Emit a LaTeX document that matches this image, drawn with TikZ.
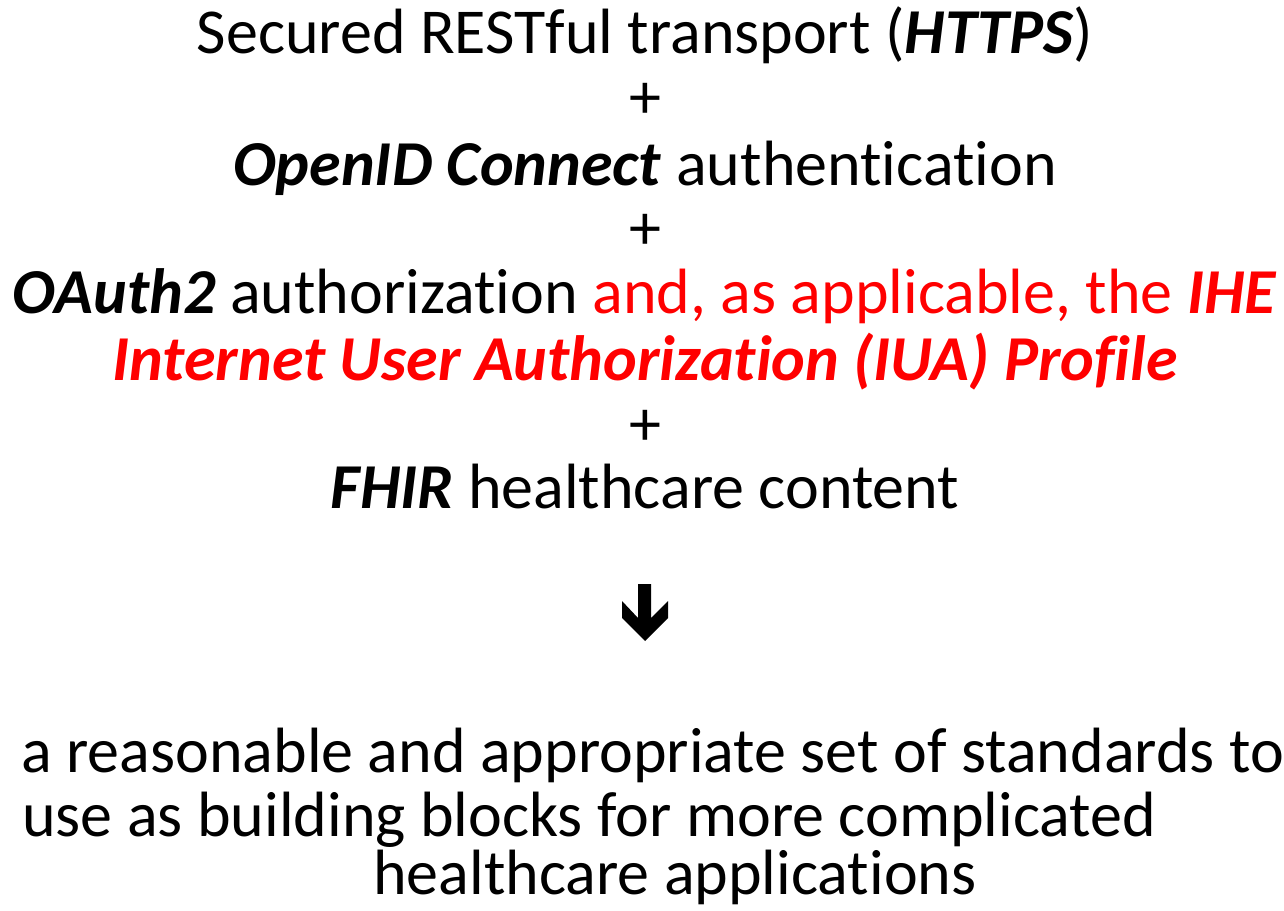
\documentclass[tikz,border=0pt]{standalone}
\usepackage{fontspec}
\setmainfont{Carlito}[Ligatures=NoCommon]
\usepackage{tikz}
\newcommand{\term}[1]{\textbf{\textit{#1}}}
\tikzset{line/.style={anchor=base, inner sep=0pt, font=\fontsize{48}{48}\selectfont}}

\begin{document}
\begin{tikzpicture}[x=0.75pt, y=-0.75pt]
            \useasboundingbox (0,0) rectangle (1284,910);
            \node [line] (https) at (645,53) {Secured RESTful transport (\term{HTTPS})};
            \node [line] (plus1) at (645,118) {+};
            \node [line] (oidc) at (645,185) {\term{OpenID Connect} authentication};
            \node [line] (plus2) at (645,249) {+};
            \node [line] (oauth) at (645,313) {\term{OAuth2} authorization \textcolor{red}{and, as applicable, the \term{IHE}}};
            \node [line, red] (iua) at (645,380) {\term{Internet User Authorization (IUA) Profile}};
            \node [line] (plus3) at (645,445) {+};
            \node [line] (fhir) at (645,508) {\term{FHIR} healthcare content};
            \path [fill] (638,584) -- (651,584) -- (651,618) -- (668,601) -- (668,618) -- (645,641)
                -- (622,618) -- (622,601) -- (638,618) -- cycle;
            \node [line, anchor=base west] (res1) at (21,772) {a reasonable and appropriate set of standards to};
            \node [line, anchor=base west] (res2) at (22,836) {use as building blocks for more complicated};
            \node [line, anchor=base west] (res3) at (373,894) {healthcare applications};
        \end{tikzpicture}
\end{document}
